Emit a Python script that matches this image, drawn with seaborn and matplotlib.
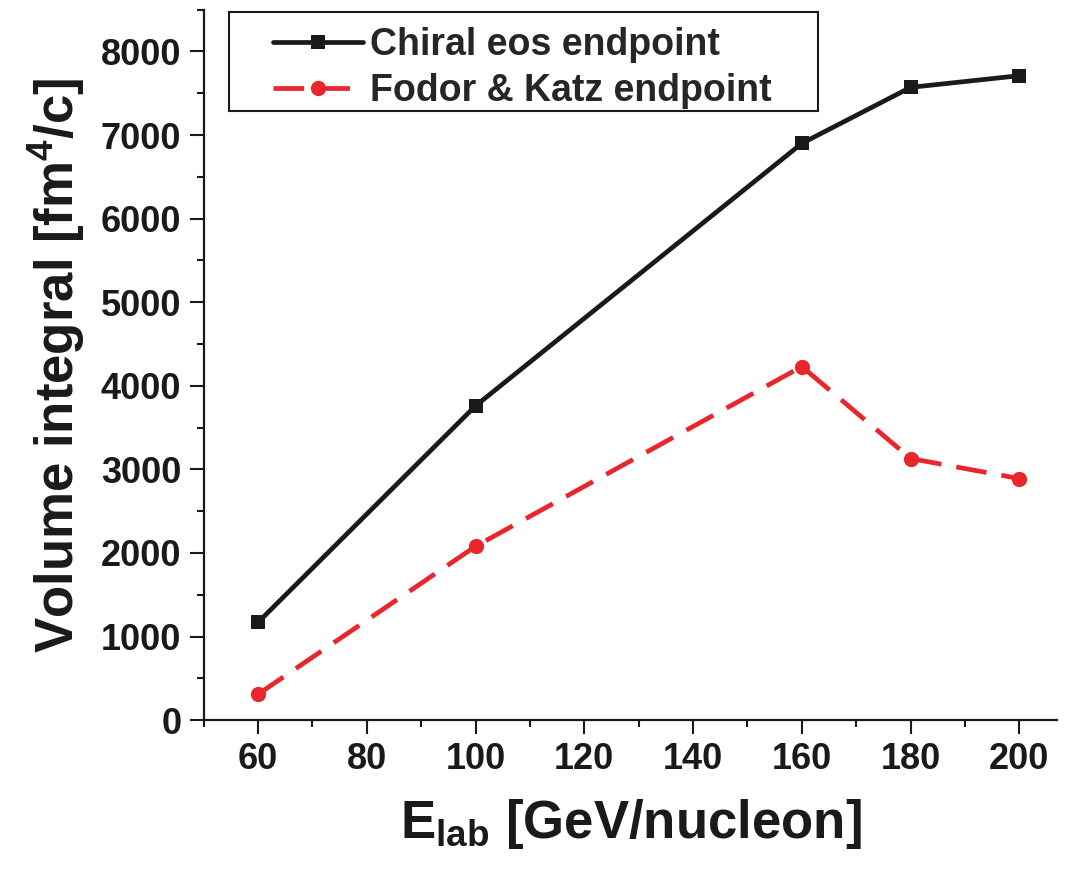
import matplotlib
matplotlib.use("Agg")
import matplotlib.pyplot as plt
from matplotlib.patches import Rectangle
from matplotlib.ticker import MultipleLocator
import seaborn as sns
import pandas as pd

# Beam energy per nucleon and volume integrals for the two critical endpoints
energy = [60, 100, 160, 180, 200]
chiral_eos = [1170, 3760, 6900, 7570, 7710]
fodor_katz = [310, 2080, 4230, 3130, 2890]

sns.set_theme(style="ticks")
plt.rcParams["font.family"] = ["Liberation Sans", "DejaVu Sans"]
plt.rcParams["font.weight"] = "bold"
plt.rcParams["mathtext.fontset"] = "custom"
plt.rcParams["mathtext.rm"] = "Liberation Sans:bold"
plt.rcParams["mathtext.bf"] = "Liberation Sans:bold"
plt.rcParams["mathtext.default"] = "bf"

df_chiral = pd.DataFrame({"E": energy, "V": chiral_eos})
df_fodor = pd.DataFrame({"E": energy, "V": fodor_katz})

fig = plt.figure(figsize=(10.66, 8.74), dpi=100)
ax = fig.add_axes([0.191, 0.176, 0.801, 0.813])

sns.lineplot(data=df_chiral, x="E", y="V", ax=ax, color="#1a1a1a",
             linewidth=3.4, marker="s", markersize=10, markeredgewidth=0,
             label="Chiral eos endpoint")
sns.lineplot(data=df_fodor, x="E", y="V", ax=ax, color="#e8262b",
             linewidth=3.4, marker="o", markersize=11, markeredgewidth=0,
             linestyle=(0, (6.5, 3.2)), label="Fodor & Katz endpoint")

ax.set_xlim(50, 207)
ax.set_ylim(0, 8500)
ax.xaxis.set_major_locator(MultipleLocator(20))
ax.xaxis.set_minor_locator(MultipleLocator(10))
ax.yaxis.set_major_locator(MultipleLocator(1000))
ax.yaxis.set_minor_locator(MultipleLocator(500))
ax.set_yticks(range(0, 8001, 1000))

for side in ("top", "right"):
    ax.spines[side].set_visible(False)
for side in ("left", "bottom"):
    ax.spines[side].set_linewidth(1.6)
    ax.spines[side].set_color("#1a1a1a")

ax.tick_params(which="major", length=10, width=1.5, direction="out",
               labelsize=26, pad=6, colors="#1a1a1a")
ax.tick_params(which="minor", length=5, width=1.5, direction="out",
               colors="#1a1a1a")
for lab in ax.get_xticklabels() + ax.get_yticklabels():
    lab.set_fontweight("bold")

ax.set_xlabel(r"E$_{\mathbf{lab}}$ [GeV/nucleon]", fontsize=38,
              fontweight="bold", labelpad=14, color="#1a1a1a")
ax.set_ylabel(r"Volume integral [fm$^{\mathbf{4}}$/c]", fontsize=38,
              fontweight="bold", labelpad=10, color="#1a1a1a")

# Legend box with generous side padding
box = Rectangle((0.030, 0.857), 0.689, 0.140, transform=ax.transAxes,
                facecolor="white", edgecolor="#1a1a1a", linewidth=1.5,
                zorder=4.5, clip_on=False)
ax.add_patch(box)
leg = ax.legend(loc="upper left", bbox_to_anchor=(0.081, 0.975),
                borderaxespad=0, borderpad=0, frameon=False,
                handlelength=2.4, handletextpad=0.2,
                labelspacing=0.25, prop={"weight": "bold", "size": 27})
leg.set_zorder(5)

fig.savefig("out.png", dpi=100, facecolor="white")
